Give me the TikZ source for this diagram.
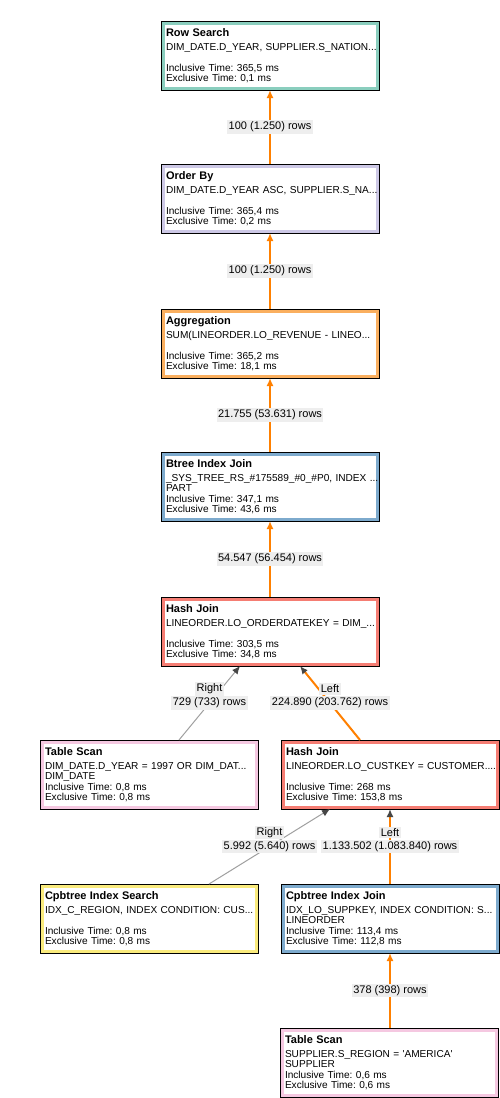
\documentclass[tikz,border=0pt]{standalone}
\usepackage{fontspec}
\setmainfont{Liberation Sans}
\usetikzlibrary{arrows.meta}
\frenchspacing
\definecolor{edgeorange}{RGB}{255,128,0}
\definecolor{edgegray}{RGB}{160,160,160}
\definecolor{tipdark}{RGB}{70,70,70}
\definecolor{labgray}{RGB}{238,238,238}
\definecolor{frteal}{RGB}{138,206,190}
\definecolor{frlav}{RGB}{205,200,230}
\definecolor{frorange}{RGB}{250,175,95}
\definecolor{frblue}{RGB}{125,170,205}
\definecolor{frsalmon}{RGB}{245,125,115}
\definecolor{frpink}{RGB}{245,200,225}
\definecolor{fryellow}{RGB}{250,235,125}
\newcommand\optext[5]{\mbox{\fontsize{11}{11}\selectfont\bfseries #1}\\[3.5pt]\mbox{#2}\\\mbox{#3}\\\mbox{#4}\\\mbox{#5}}
\begin{document}
\begin{tikzpicture}[x=1pt,y=-1pt,
  opbox/.style={rectangle, draw=black, line width=1pt, fill=white,
    minimum width=218pt, minimum height=69pt, inner sep=0pt, outer sep=0pt,
    anchor=north west, text width=208pt, align=left,
    font=\fontsize{10.1}{10.5}\selectfont\frenchspacing,
    path picture={\draw[line width=7pt,#1] (path picture bounding box.south west) rectangle (path picture bounding box.north east);}},
  oedge/.style={draw=edgeorange, line width=2pt, -{Latex[length=8pt,width=7pt]}},
  odedge/.style={draw=edgeorange, line width=2pt, -{Latex[length=8pt,width=7pt,color=tipdark]}},
  gedge/.style={draw=edgegray, line width=1pt, -{Latex[length=8pt,width=7pt,color=tipdark]}},
  lab/.style={fill=labgray, inner sep=1.5pt, text=black, font=\fontsize{11}{12}\selectfont}]
\useasboundingbox[fill=white] (0,0) rectangle (500,1098);

\node[opbox=frteal] (rs) at (161,21) {\optext{Row Search}{DIM\_DATE.D\_YEAR, SUPPLIER.S\_NATION...}{}{Inclusive Time: 365,5 ms}{Exclusive Time: 0,1 ms}};
\node[opbox=frlav] (ob) at (161,164) {\optext{Order By}{DIM\_DATE.D\_YEAR ASC, SUPPLIER.S\_NA...}{}{Inclusive Time: 365,4 ms}{Exclusive Time: 0,2 ms}};
\node[opbox=frorange] (ag) at (161,309) {\optext{Aggregation}{SUM(LINEORDER.LO\_REVENUE - LINEO...}{}{Inclusive Time: 365,2 ms}{Exclusive Time: 18,1 ms}};
\node[opbox=frblue] (bt) at (161,452) {\optext{Btree Index Join}{\_SYS\_TREE\_RS\_\#175589\_\#0\_\#P0, INDEX ...}{PART}{Inclusive Time: 347,1 ms}{Exclusive Time: 43,6 ms}};
\node[opbox=frsalmon] (hj1) at (161,597) {\optext{Hash Join}{LINEORDER.LO\_ORDERDATEKEY = DIM\_...}{}{Inclusive Time: 303,5 ms}{Exclusive Time: 34,8 ms}};
\node[opbox=frpink] (ts1) at (40,740) {\optext{Table Scan}{DIM\_DATE.D\_YEAR = 1997 OR DIM\_DAT...}{DIM\_DATE}{Inclusive Time: 0,8 ms}{Exclusive Time: 0,8 ms}};
\node[opbox=frsalmon] (hj2) at (281,740) {\optext{Hash Join}{LINEORDER.LO\_CUSTKEY = CUSTOMER....}{}{Inclusive Time: 268 ms}{Exclusive Time: 153,8 ms}};
\node[opbox=fryellow] (cis) at (40,884) {\optext{Cpbtree Index Search}{IDX\_C\_REGION, INDEX CONDITION: CUS...}{}{Inclusive Time: 0,8 ms}{Exclusive Time: 0,8 ms}};
\node[opbox=frblue] (cij) at (281,884) {\optext{Cpbtree Index Join}{IDX\_LO\_SUPPKEY, INDEX CONDITION: S...}{LINEORDER}{Inclusive Time: 113,4 ms}{Exclusive Time: 112,8 ms}};
\node[opbox=frpink] (ts2) at (280,1028) {\optext{Table Scan}{SUPPLIER.S\_REGION = \textquotesingle AMERICA\textquotesingle}{SUPPLIER}{Inclusive Time: 0,6 ms}{Exclusive Time: 0,6 ms}};

\draw[oedge] (ob.north) -- (rs.south) node[lab, midway] (l1) {100 (1.250) rows};
\draw[oedge] (ag.north) -- (ob.south) node[lab, midway] (l2) {100 (1.250) rows};
\draw[oedge] (bt.north) -- (ag.south) node[lab, midway] (l3) {21.755 (53.631) rows};
\draw[oedge] (hj1.north) -- (bt.south) node[lab, midway] (l4) {54.547 (56.454) rows};
\draw[gedge] ([xshift=30pt]ts1.north) -- ([xshift=-30pt]hj1.south)
  node[lab, midway] (l5b) {729 (733) rows}
  node[lab, midway, yshift=14pt] (l5a) {Right};
\draw[odedge] ([xshift=-30pt]hj2.north) -- ([xshift=30pt]hj1.south)
  node[lab, midway] (l6b) {224.890 (203.762) rows}
  node[lab, midway, yshift=14pt] (l6a) {Left};
\draw[gedge] ([xshift=60pt]cis.north) -- ([xshift=-60pt]hj2.south)
  node[lab, midway] (l7b) {5.992 (5.640) rows}
  node[lab, midway, yshift=14pt] (l7a) {Right};
\draw[odedge] (cij.north) -- (hj2.south)
  node[lab, midway] (l8b) {1.133.502 (1.083.840) rows}
  node[lab, midway, yshift=14pt] (l8a) {Left};
\draw[oedge] (cij.south |- ts2.north) -- (cij.south) node[lab, midway] (l9) {378 (398) rows};
\end{tikzpicture}
\end{document}
